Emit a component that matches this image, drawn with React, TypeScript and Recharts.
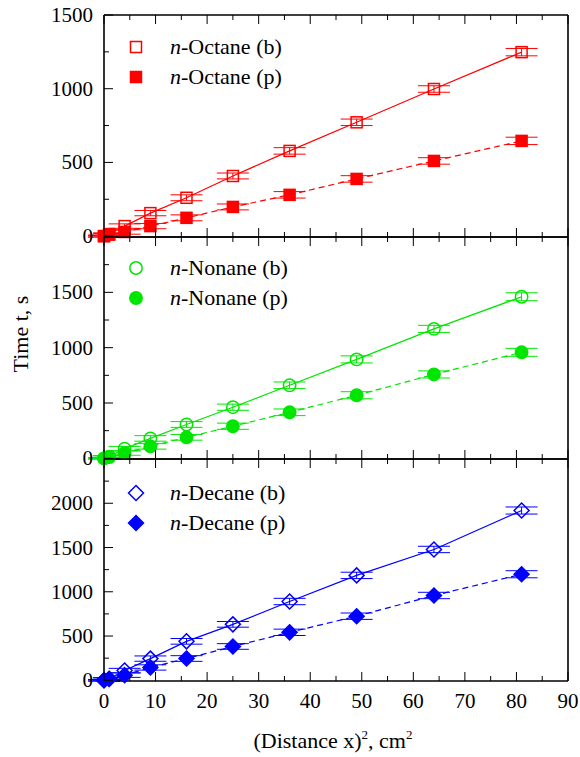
import React from "react";
import { ComposedChart, Line, XAxis, YAxis, ErrorBar, Legend, Label } from "recharts";

// x values: (distance x)^2 in cm^2
const distanceSq = [0, 1, 4, 9, 16, 25, 36, 49, 64, 81];

const octaneB = [0, 14, 68, 156, 260, 408, 578, 772, 998, 1248];
const octaneP = [0, 10, 28, 68, 124, 198, 280, 388, 510, 646];
const nonaneB = [0, 14, 88, 180, 306, 462, 660, 894, 1170, 1460];
const nonaneP = [0, 12, 48, 108, 190, 290, 416, 570, 758, 958];
const decaneB = [0, 18, 110, 245, 440, 632, 890, 1185, 1478, 1918];
const decaneP = [0, 14, 58, 145, 246, 382, 542, 724, 958, 1198];

const octaneErr = [6, 8, 15, 18, 20, 20, 22, 22, 22, 25];
const nonaneErr = [6, 10, 20, 25, 26, 28, 30, 32, 32, 36];
const decaneErr = [8, 12, 25, 30, 32, 32, 36, 36, 36, 40];

const xTicks = [0, 5, 10, 15, 20, 25, 30, 35, 40, 45, 50, 55, 60, 65, 70, 75, 80, 85, 90];

const FONT = "'Liberation Serif', 'DejaVu Serif', serif";
const LEFT = 104;
const RIGHT = 568;
const PLOT_H = 222;
const TOP_M = 20;

type Shape = "square" | "circle" | "diamond";

function Marker({ cx, cy, shape, color, filled }: any) {
  if (cx == null || cy == null) return null;
  const fill = filled ? color : "none";
  const sw = 1.5;
  if (shape === "square") {
    return <rect x={cx - 5.5} y={cy - 5.5} width={11} height={11} fill={fill} stroke={color} strokeWidth={sw} />;
  }
  if (shape === "circle") {
    return <circle cx={cx} cy={cy} r={6.2} fill={fill} stroke={color} strokeWidth={sw} />;
  }
  const d = 7.5;
  return (
    <polygon
      points={`${cx},${cy - d} ${cx + d},${cy} ${cx},${cy + d} ${cx - d},${cy}`}
      fill={fill}
      stroke={color}
      strokeWidth={sw}
    />
  );
}

function buildData(b: number[], p: number[], err: number[]) {
  return distanceSq.map((x, i) => ({ x, b: b[i], p: p[i], err: err[i] }));
}

interface PanelProps {
  top: number;
  name: string;
  color: string;
  shape: Shape;
  b: number[];
  p: number[];
  err: number[];
  yMax: number;
  yLabels: number[];
  bottom?: boolean;
  yTitle?: boolean;
  legendTop: number;
}

function Panel({ top, name, color, shape, b, p, err, yMax, yLabels, bottom, yTitle, legendTop }: PanelProps) {
  const data = buildData(b, p, err);
  const yTicks: number[] = [];
  for (let v = 0; v < yMax; v += 250) yTicks.push(v);
  if (yLabels.includes(yMax)) yTicks.push(yMax);
  const bottomM = bottom ? 90 : 12;
  const height = TOP_M + PLOT_H + bottomM;
  const plotTop = TOP_M;
  const plotBottom = TOP_M + PLOT_H;
  // global -> local y offset
  const off = top - TOP_M;

  const leftTick = (props: any) => {
    const { y, payload } = props;
    const v = payload.value;
    const major = v % 500 === 0;
    return (
      <g>
        <line x1={LEFT} x2={LEFT + (major ? 9 : 5)} y1={y} y2={y} stroke="#000" strokeWidth={1} />
        {yLabels.includes(v) && (
          <text x={LEFT - 11} y={y + 7} textAnchor="end" fontFamily={FONT} fontSize={21} fill="#000">
            {v}
          </text>
        )}
      </g>
    );
  };
  const rightTick = (props: any) => {
    const { y, payload } = props;
    const major = payload.value % 500 === 0;
    return <line x1={RIGHT} x2={RIGHT - (major ? 6 : 4)} y1={y} y2={y} stroke="#000" strokeWidth={1} />;
  };
  const bottomTick = (props: any) => {
    const { x, payload } = props;
    const v = payload.value;
    const major = v % 10 === 0;
    return (
      <g>
        <line x1={x} x2={x} y1={plotBottom} y2={plotBottom - (major ? 9 : 5)} stroke="#000" strokeWidth={1} />
        {bottom && major && (
          <text x={x} y={plotBottom + 27} textAnchor="middle" fontFamily={FONT} fontSize={21} fill="#000">
            {v}
          </text>
        )}
      </g>
    );
  };
  const topTick = (props: any) => {
    const { x, payload } = props;
    const major = payload.value % 10 === 0;
    return <line x1={x} x2={x} y1={plotTop} y2={plotTop + (major ? 9 : 5)} stroke="#000" strokeWidth={1} />;
  };

  const legendContent = () => (
    <div style={{ fontFamily: FONT, fontSize: 22, color: "#000" }}>
      {[
        { label: "(b)", filled: false },
        { label: "(p)", filled: true },
      ].map((it) => (
        <div key={it.label} style={{ display: "flex", alignItems: "center", height: 30 }}>
          <svg width={20} height={20}>
            <Marker cx={10} cy={10} shape={shape} color={color} filled={it.filled} />
          </svg>
          <span style={{ marginLeft: 24, whiteSpace: "nowrap" }}>
            <i>n</i>-{name} {it.label}
          </span>
        </div>
      ))}
    </div>
  );

  return (
    <div style={{ position: "absolute", left: 0, top: off }}>
      <ComposedChart
        width={580}
        height={height}
        data={data}
        margin={{ top: TOP_M - 1, right: 580 - RIGHT - 1, bottom: bottomM - 1, left: LEFT - 1 }}
        style={{ overflow: "visible" }}
      >
        <XAxis
          xAxisId="bottom"
          dataKey="x"
          type="number"
          domain={[0, 90]}
          ticks={xTicks}
          interval={0}
          height={1}
          orientation="bottom"
          axisLine={{ stroke: "#000", strokeWidth: 1.6 }}
          tickLine={false}
          tick={bottomTick}
        >
          {bottom && (
            <Label
              content={() => (
                <text x={333} y={748 - off} textAnchor="middle" fontFamily={FONT} fontSize={22} fill="#000">
                  (Distance x)
                  <tspan dy={-9} fontSize={13}>2</tspan>
                  <tspan dy={9}>, cm</tspan>
                  <tspan dy={-9} fontSize={13}>2</tspan>
                </text>
              )}
            />
          )}
        </XAxis>
        <XAxis
          xAxisId="top"
          dataKey="x"
          type="number"
          domain={[0, 90]}
          ticks={xTicks}
          interval={0}
          height={1}
          orientation="top"
          axisLine={{ stroke: "#000", strokeWidth: 1.6 }}
          tickLine={false}
          tick={topTick}
        />
        <YAxis
          yAxisId="left"
          type="number"
          domain={[0, yMax]}
          ticks={yTicks}
          interval={0}
          width={1}
          orientation="left"
          axisLine={{ stroke: "#000", strokeWidth: 1.6 }}
          tickLine={false}
          tick={leftTick}
        >
          {yTitle && (
            <Label
              content={() => (
                <text
                  x={0}
                  y={0}
                  transform={`translate(28, ${334 - off}) rotate(-90)`}
                  textAnchor="middle"
                  fontFamily={FONT}
                  fontSize={22}
                  fill="#000"
                >
                  Time t, s
                </text>
              )}
            />
          )}
        </YAxis>
        <YAxis
          yAxisId="right"
          type="number"
          domain={[0, yMax]}
          ticks={yTicks}
          interval={0}
          width={1}
          orientation="right"
          axisLine={{ stroke: "#000", strokeWidth: 1.6 }}
          tickLine={false}
          tick={rightTick}
        />
        <Legend
          layout="horizontal"
          verticalAlign="middle"
          align="center"
          content={legendContent}
          wrapperStyle={{ left: 126, top: legendTop - off, width: "auto", height: "auto" }}
        />
        <Line
          xAxisId="bottom"
          yAxisId="left"
          dataKey="b"
          stroke={color}
          strokeWidth={1.2}
          isAnimationActive={false}
          dot={(props: any) => <Marker key={`b${props.index}`} {...props} shape={shape} color={color} filled={false} />}
          activeDot={false}
        >
          <ErrorBar dataKey="err" direction="y" width={16} stroke={color} strokeWidth={1} />
        </Line>
        <Line
          xAxisId="bottom"
          yAxisId="left"
          dataKey="p"
          stroke={color}
          strokeWidth={1.2}
          strokeDasharray="6 4"
          isAnimationActive={false}
          dot={(props: any) => <Marker key={`p${props.index}`} {...props} shape={shape} color={color} filled={true} />}
          activeDot={false}
        >
          <ErrorBar dataKey="err" direction="y" width={16} stroke={color} strokeWidth={1} />
        </Line>
      </ComposedChart>
    </div>
  );
}

export default function App() {
  return (
    <div
      style={{
        position: "absolute",
        left: 0,
        top: 0,
        width: 580,
        height: 757,
        overflow: "hidden",
        background: "#fff",
      }}
    >
      <Panel
        top={15}
        name="Octane"
        color="#ff0000"
        shape="square"
        b={octaneB}
        p={octaneP}
        err={octaneErr}
        yMax={1500}
        yLabels={[0, 500, 1000, 1500]}
        legendTop={32}
      />
      <Panel
        top={237}
        name="Nonane"
        color="#00e600"
        shape="circle"
        b={nonaneB}
        p={nonaneP}
        err={nonaneErr}
        yMax={2000}
        yLabels={[0, 500, 1000, 1500]}
        yTitle
        legendTop={253}
      />
      <Panel
        top={459}
        name="Decane"
        color="#0000ff"
        shape="diamond"
        b={decaneB}
        p={decaneP}
        err={decaneErr}
        yMax={2500}
        yLabels={[0, 500, 1000, 1500, 2000]}
        bottom
        legendTop={478}
      />
    </div>
  );
}
